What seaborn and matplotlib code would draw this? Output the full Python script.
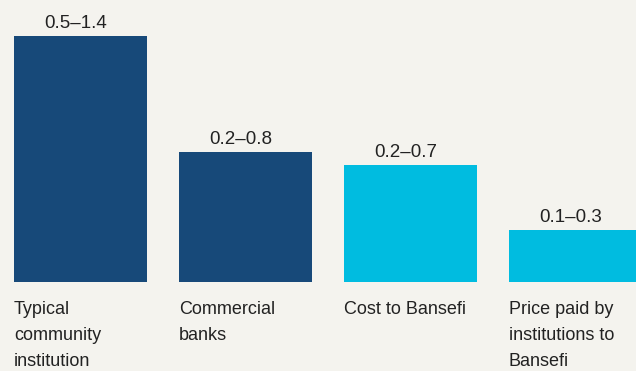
import matplotlib
matplotlib.use("Agg")
import matplotlib.pyplot as plt
import seaborn as sns
import pandas as pd

categories = ["Typical\ncommunity\ninstitution", "Commercial\nbanks", "Cost to Bansefi",
              "Price paid by\ninstitutions to\nBansefi"]
heights = [0.95, 0.5, 0.45, 0.2]
range_labels = ["0.5–1.4", "0.2–0.8", "0.2–0.7", "0.1–0.3"]
bar_colors = ["#174979", "#174979", "#00bce0", "#00bce0"]

BG = "#f4f3ee"
sns.set_theme(style="white")
plt.rcParams["font.family"] = ["Liberation Sans", "DejaVu Sans"]

df = pd.DataFrame({"cat": categories, "val": heights})

fig = plt.figure(figsize=(6.36, 3.71), dpi=100, facecolor=BG)
ax = fig.add_axes([0, 89 / 371, 1, 282 / 371])
ax.set_facecolor(BG)
sns.barplot(data=df, x="cat", y="val", hue="cat", palette=bar_colors,
            width=0.806, legend=False, ax=ax, saturation=1, linewidth=0,
            edgecolor="none")

ax.set_xlim(-0.488, 3.367)
ax.set_ylim(0, 1.0888)
ax.axis("off")

half = 0.806 / 2
for i, (h, lab) in enumerate(zip(heights, range_labels)):
    ax.annotate(lab, (i, h), xytext=(-3.6, 6), textcoords="offset points",
                ha="center", va="baseline", fontsize=13.5, color="#222222")
    ax.annotate(categories[i], (i - half, 0), xytext=(0, -14), textcoords="offset points",
                ha="left", va="top", fontsize=13, color="#222222",
                linespacing=1.66, annotation_clip=False)

fig.savefig("out.png", dpi=100, facecolor=BG)
